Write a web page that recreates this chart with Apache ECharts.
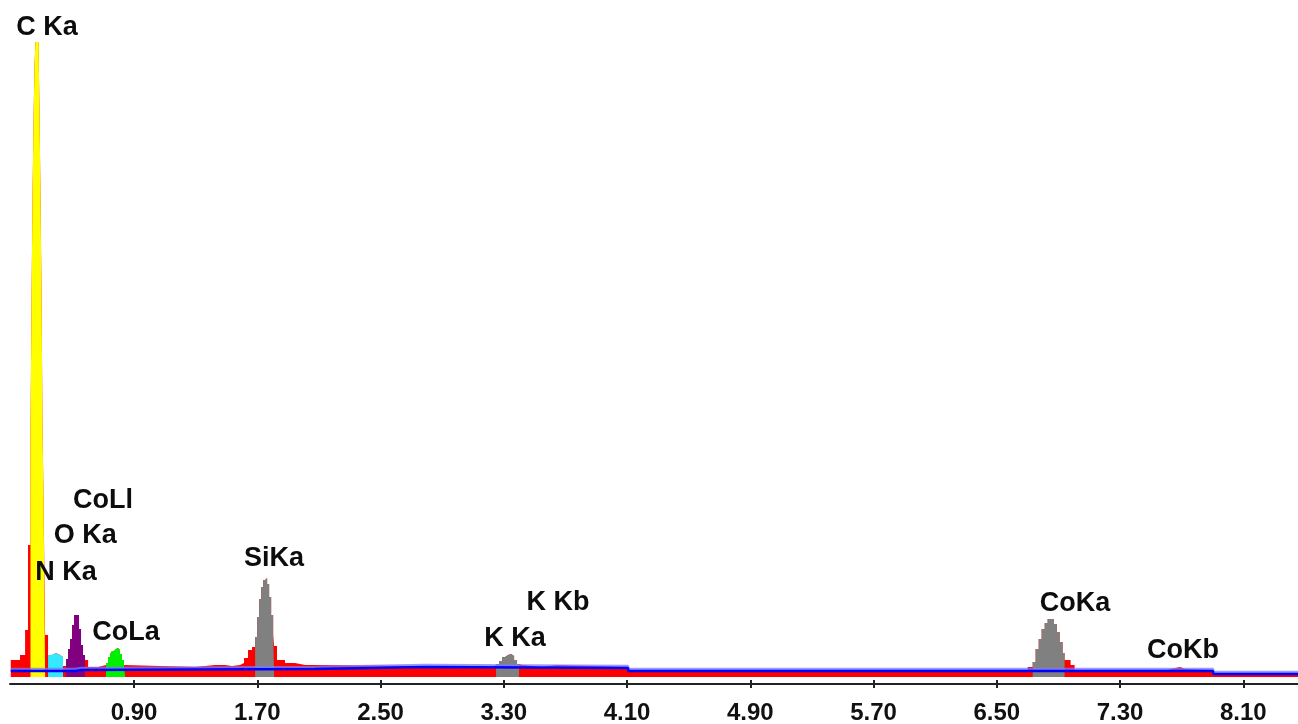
<!DOCTYPE html>
<html><head><meta charset="utf-8">
<script src="https://cdn.jsdelivr.net/npm/echarts@6/dist/echarts.min.js"></script>
<style>html,body{margin:0;padding:0;background:#fff}#c{width:1298px;height:724px}</style>
</head><body><div id="c"></div>
<script>
// Energy axis (keV) tick labels
const tickLabels = ['0.90','1.70','2.50','3.30','4.10','4.90','5.70','6.50','7.30','8.10'];
const tickValues = tickLabels.map(Number);

// Measured spectrum: [energy keV, counts], each value holds until the next energy
const spectrum = [
  [0.100,17],[0.160,22],[0.193,47],[0.212,132],
  [0.228,250],[0.235,380],[0.241,480],[0.248,560],[0.254,610],[0.260,635],[0.282,615],[0.287,560],
  [0.293,480],[0.300,380],[0.306,250],[0.313,175],
  [0.323,42],[0.342,22],[0.368,24],[0.394,22],[0.420,20],[0.439,11],
  [0.459,18],[0.472,28],[0.485,38],[0.498,52],[0.511,62],[0.524,64],[0.530,62],[0.543,48],[0.556,32],[0.569,22],
  [0.582,17],[0.602,10],[0.667,12],
  [0.718,14],[0.731,20],[0.745,23],[0.757,26],[0.770,28],[0.783,29],[0.796,27],[0.809,23],[0.822,17],[0.835,12],
  [0.842,10],[1.296,11],[1.361,12],[1.426,12],[1.491,11],[1.536,12],
  [1.588,14],[1.614,19],[1.640,27],[1.666,30],
  [1.686,40],[1.699,60],[1.712,78],[1.725,90],[1.738,97],[1.751,99],[1.764,93],[1.777,80],[1.790,62],[1.803,42],
  [1.809,31],[1.828,17],[1.880,14],[1.945,12],[2.010,12],[2.075,11],
  [2.789,10],[3.230,12],
  [3.250,13],[3.269,16],[3.289,20],[3.308,22],[3.328,23],[3.347,21],[3.367,17],[3.386,13],
  [3.399,12],[3.419,10],[3.555,12],[3.639,10],[4.107,7],
  [6.700,10],
  [6.733,15],[6.752,28],[6.772,38],[6.791,48],[6.811,54],[6.830,58],[6.850,58],[6.869,53],[6.889,45],[6.908,35],[6.927,24],
  [6.940,17],[6.979,12],[7.005,7],
  [7.612,8],[7.631,10],[7.689,8],[7.722,7],[7.904,4],[8.455,4]
];

// Fitted background: [energy keV, counts]
const background = [
  [0.100,6],[0.490,6],[0.520,7],[0.560,8],[2.075,10],[2.789,9],[4.107,6],[7.904,3],[8.455,3]
];

// Peak regions of interest (keV)
const roiNames = ['C Ka','N Ka','O Ka','CoLa','SiKa','K Ka','CoKa'];
const roiStart = [0.228,0.342,0.459,0.718,1.686,3.250,6.733];
const roiEnd   = [0.323,0.439,0.582,0.842,1.809,3.399,6.940];

// Peak labels: name, energy (keV), counts where the label sits
const labelNames   = ['C Ka','CoLl','O Ka','N Ka','CoLa','SiKa','K Kb','K Ka','CoKa','CoKb'];
const labelEnergy  = [0.336,0.699,0.583,0.459,0.848,1.809,3.652,3.373,7.008,7.709];
const labelCounts  = [649,176,141,104,44,118,74,38,73,26];

// styles
const roiColors = {'C Ka':'#ffff00','N Ka':'#33e8ff','O Ka':'#800080','CoLa':'#00f000','SiKa':'#808080','K Ka':'#808080','CoKa':'#808080'};

function roiData(s, e) {
  const pts = [];
  let last = null;
  for (const p of spectrum) {
    if (p[0] <= s) last = p[1];
  }
  pts.push([s, last]);
  for (const p of spectrum) {
    if (p[0] > s && p[0] < e) { pts.push([p[0], p[1]]); last = p[1]; }
  }
  pts.push([e, last]);
  return pts;
}

const series = [];
series.push({
  type:'line', step:'end', data: spectrum, showSymbol:false, symbol:'none',
  lineStyle:{width:0}, areaStyle:{color:'#ff0000', opacity:1}, z:1, silent:true
});
roiNames.forEach((n,i)=>{
  series.push({
    type:'line', step:'end', data: roiData(roiStart[i], roiEnd[i]), showSymbol:false, symbol:'none',
    lineStyle:{width:0}, areaStyle:{color:roiColors[n], opacity:1}, z:2, silent:true
  });
});
series.push({
  type:'line', step:'end', data: background, showSymbol:false, symbol:'none',
  lineStyle:{color:'#0000ff', width:2.5, shadowColor:'rgba(120,120,255,0.75)', shadowBlur:0, shadowOffsetY:-2},
  z:3, silent:true
});
series.push({
  type:'scatter', symbolSize:0, itemStyle:{color:'#000', opacity:1}, z:4, silent:true,
  data: labelNames.map((n,i)=>({name:n, value:[labelEnergy[i], labelCounts[i]]})),
  label:{show:true, position:'inside', formatter:p=>p.name, color:'#0d0d0d',
    textBorderWidth:0, textBorderColor:'transparent', textShadowBlur:0,
    fontFamily:'Liberation Sans, Arial, sans-serif', fontWeight:'bold', fontSize:27}
});

const chart = echarts.init(document.getElementById('c'), null, {renderer:'canvas'});
chart.setOption({
  animation:false,
  backgroundColor:'#ffffff',
  grid:{left:10, right:0, top:0, bottom:47, outerBoundsMode:'none', containLabel:false},
  xAxis:[{
    type:'value', min:0.095, max:8.455, offset:7,
    axisLine:{show:true, onZero:false, lineStyle:{color:'#222', width:2}},
    axisTick:{show:false},
    splitLine:{show:false},
    axisLabel:{customValues:tickValues, formatter:v=>v.toFixed(2), color:'#111',
      fontFamily:'Liberation Sans, Arial, sans-serif', fontWeight:'bold', fontSize:24, margin:17}
  },{
    type:'value', min:0.095, max:8.455, offset:3, position:'bottom',
    axisLine:{show:false, onZero:false},
    axisTick:{show:true, customValues:tickValues, length:8, lineStyle:{color:'#222', width:2}},
    axisLabel:{show:false}, splitLine:{show:false}
  }],
  yAxis:{type:'value', min:0, max:677, show:false, splitLine:{show:false}},
  series: series
});
</script>
</body></html>
